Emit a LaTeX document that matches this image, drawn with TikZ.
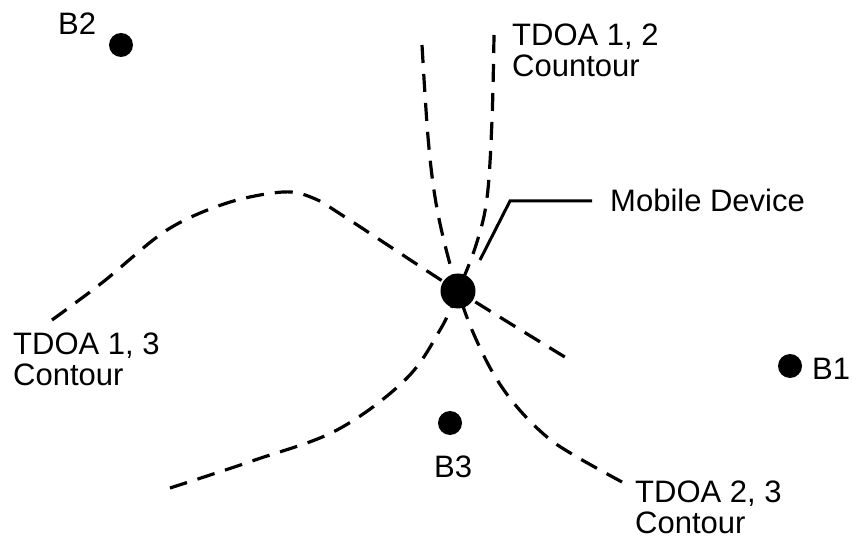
\documentclass[tikz,border=0pt]{standalone}
\usepackage{fontspec}
\setmainfont{Liberation Sans}
\begin{document}
\begin{tikzpicture}[x=1pt,y=-1pt,
  contour/.style={line width=3.2pt, dash pattern=on 18pt off 11pt, line cap=butt},
  station/.style={circle, fill=black, inner sep=0pt, minimum size=24pt},
  device/.style={circle, fill=black, inner sep=0pt, minimum size=35pt},
  lbl/.style={inner sep=0pt, align=left, font=\fontsize{31}{31}\selectfont},
  leader/.style={line width=3pt, line join=miter}]
\useasboundingbox (0,0) rectangle (852,540);

% base stations and the mobile device
\node[station] (b1) at (790,366) {};
\node[station] (b2) at (121,45) {};
\node[station] (b3) at (450,423) {};
\node[device] (dev) at (458,291) {};

% hyperbolic TDOA contours through the device
\draw[contour] plot[smooth, tension=0.6] coordinates {(494,35) (492,120) (487,198) (476,245) (458,291) (440,330) (405,380) (337,430) (255,460) (170,488)};
\draw[contour] plot[smooth, tension=0.6] coordinates {(422,45) (428,137) (435,197) (445,245) (458,291) (472,330) (493,373) (517,407) (547,437) (577,457) (622,482)};
\draw[contour] plot[smooth, tension=0.55] coordinates {(52,320) (103,282) (167,230) (227,203) (283,192) (313,198) (345,217) (458,291) (573,362)};

% labels
\node[lbl, anchor=north west] (l12) at (512,24) {TDOA 1, 2\\Countour};
\node[lbl, anchor=north west] (l13) at (13,333) {TDOA 1, 3\\Contour};
\node[lbl, anchor=north west] (l23) at (635,481) {TDOA 2, 3\\Contour};
\node[lbl, anchor=west] (mob) at (610,200) {Mobile Device};
\node[lbl, anchor=north west] (lb1) at (812,358) {B1};
\node[lbl, anchor=north west] (lb2) at (58,13) {B2};
\node[lbl, anchor=north west] (lb3) at (434,456) {B3};

% leader from the device label
\coordinate (ptr) at (480,260);
\coordinate (bend) at (510,201);
\draw[leader] (ptr) -- (bend) -- ([xshift=-18pt]mob.west |- bend);
\end{tikzpicture}
\end{document}
